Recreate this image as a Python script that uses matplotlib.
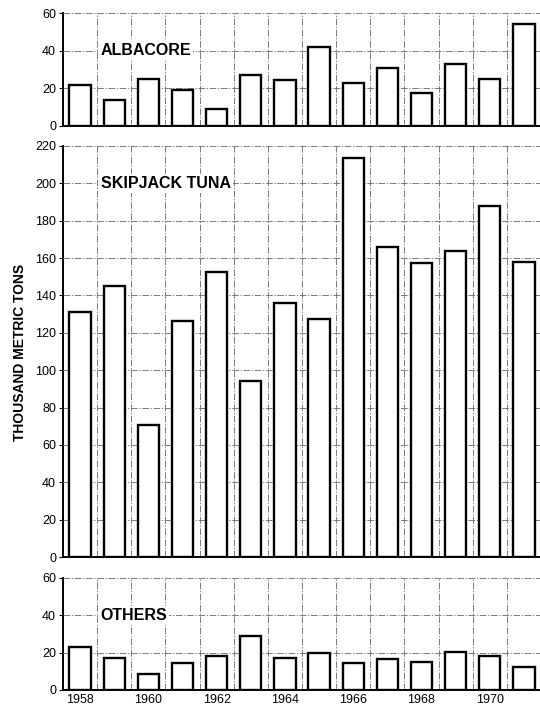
import numpy as np
import matplotlib.pyplot as plt

years = np.arange(1958, 1972)
albacore = [22, 14, 25, 19, 9, 27, 24.5, 42, 23, 31, 17.5, 33, 25, 54]
skipjack = [131, 145, 70.5, 126.5, 152.5, 94, 136, 127.5, 213.5, 166, 157.5, 164, 188, 158]
others = [23.3, 17, 8.5, 14.7, 18, 28.7, 17, 20, 14.7, 16.7, 15, 20.2, 18, 12.5]
year_labels = [str(y) for y in range(1958, 1971, 2)]

W, H = 540, 709
fig = plt.figure(figsize=(W / 100, H / 100), dpi=100)

def px_axes(top, bottom, left=63, right=541):
    return fig.add_axes([left / W, (H - bottom) / H, (right - left) / W, (bottom - top) / H])

panels = [
    (px_axes(13, 126), albacore, 60, "ALBACORE"),
    (px_axes(146, 557), skipjack, 220, "SKIPJACK TUNA"),
    (px_axes(578, 690), others, 60, "OTHERS"),
]

# grille pointillée fine, comme sur le document scanné
grid_kw = dict(color="0.4", linewidth=0.6, linestyle=(0, (8, 2, 1.5, 2)))

for i, (ax, vals, ymax, name) in enumerate(panels):
    ax.set_axisbelow(True)
    ax.bar(years, vals, width=0.62, facecolor="white", edgecolor="black", linewidth=1.7, zorder=2)
    ax.set_xlim(1957.5, 1971.5)
    ax.set_ylim(0, ymax)
    ax.set_yticks(np.arange(0, ymax + 1, 20))
    ax.set_xticks(np.arange(1957.5, 1972, 1), minor=True)
    ax.set_xticks(range(1958, 1971, 2))
    ax.grid(True, which="minor", axis="x", **grid_kw)
    ax.grid(True, which="major", axis="y", **grid_kw)
    for s in ["top", "right"]:
        ax.spines[s].set_visible(False)
    ax.spines["left"].set_linewidth(1.4)
    ax.spines["bottom"].set_linewidth(1.4)
    ax.tick_params(axis="y", which="major", length=3, width=0.8, pad=2, labelsize=9)
    ax.tick_params(axis="x", which="both", length=0)
    for lab in ax.get_yticklabels():
        lab.set_fontfamily("Liberation Sans")
    if i < 2:
        ax.set_xticklabels([])
    else:
        ax.set_xticklabels(year_labels, fontsize=9, fontfamily="Liberation Sans")
        ax.tick_params(axis="x", pad=3)
    ax.text(1958.6, ymax * 2 / 3 if ymax == 60 else 200, name, fontsize=11.5, fontweight="bold",
            fontfamily="Liberation Sans", va="center", ha="left", zorder=3,
            bbox=dict(facecolor="white", edgecolor="none", pad=1.5))

fig.text(20 / W, (H - 352) / H, "THOUSAND METRIC TONS", rotation=90, fontsize=10,
         fontweight="bold", fontfamily="Liberation Sans", va="center", ha="center")

fig.savefig("out.png", dpi=100)
